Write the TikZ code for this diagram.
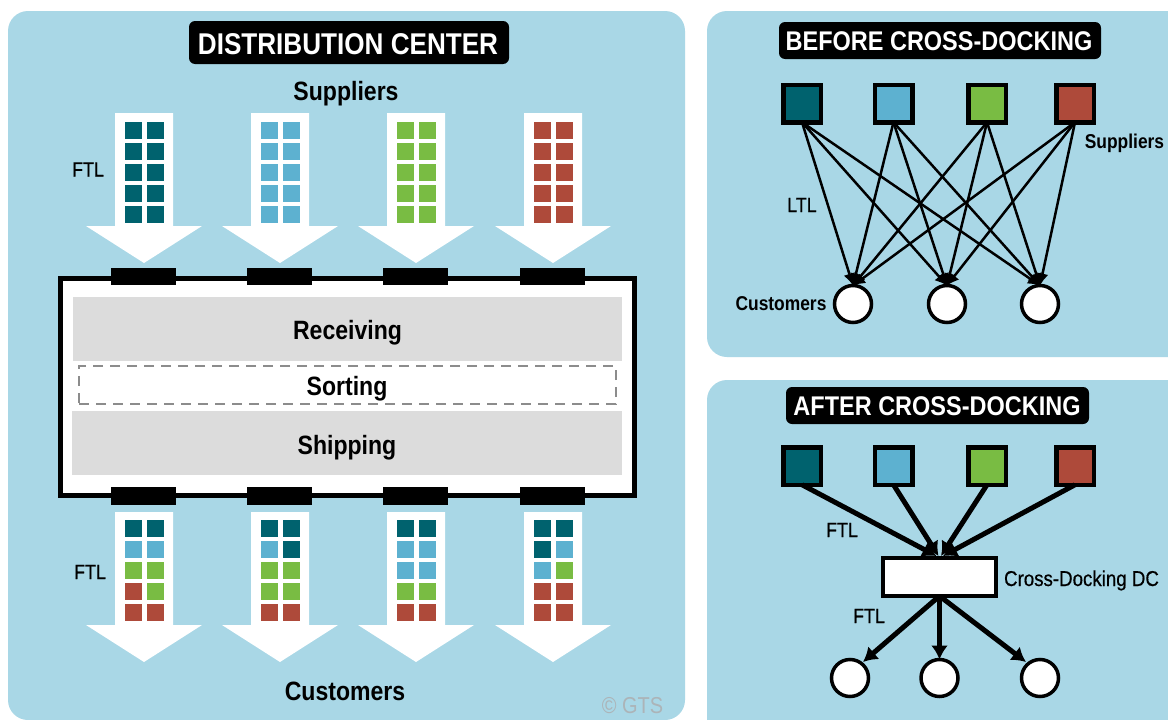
\documentclass[tikz,border=0pt]{standalone}
\usepackage{fontspec}
\setmainfont[FakeStretch=0.87,BoldFont={Liberation Sans Bold},BoldFeatures={FakeStretch=0.87}]{Liberation Sans}
\newfontfamily\medfont[FakeStretch=0.87,FakeBold=0.5]{Liberation Sans}
\usetikzlibrary{arrows.meta}
\definecolor{cBg}{HTML}{A9D7E6}
\definecolor{cT}{HTML}{00626E}
\definecolor{cB}{HTML}{5DB1D0}
\definecolor{cG}{HTML}{79BC43}
\definecolor{cR}{HTML}{AE4A3A}
\definecolor{cZone}{HTML}{DCDCDC}
\definecolor{cDash}{HTML}{8C8C8C}
\definecolor{cCopy}{HTML}{ACB4B8}
\newcommand{\fs}[1]{\fontsize{#1}{#1}\selectfont}
\tikzset{
  x=1pt,y=-1pt,
  panel/.style={fill=cBg,rounded corners=20pt},
  crate/.style={draw=white,line width=0.4pt,minimum width=18pt,minimum height=18pt,inner sep=0pt,outer sep=0pt},
  dock/.style={fill=black,minimum width=65pt,minimum height=17pt,inner sep=0pt,outer sep=0pt},
  zone/.style={fill=cZone,inner sep=0pt,outer sep=0pt},
  titlebox/.style={fill=black,rounded corners=6pt,inner sep=0pt,outer sep=0pt},
  titletext/.style={anchor=base,text=white,font=\bfseries,inner sep=0pt},
  lab/.style={anchor=base,inner sep=0pt,font=\bfseries\fs{26.5}},
  small/.style={anchor=base,inner sep=0pt,font=\medfont\fs{20.5}},
  smallb/.style={anchor=base,inner sep=0pt,font=\bfseries\fs{20}},
  site/.style={draw=black,line width=4.5pt,minimum size=37.5pt,inner sep=0pt,outer sep=0pt},
  cust/.style={circle,draw=black,fill=white,line width=3.5pt,minimum size=37pt,inner sep=0pt,outer sep=0pt},
  ltl/.style={draw=black,line width=2.5pt,-{Latex[length=12pt,width=12pt]}},
  ftl/.style={draw=black,line width=5pt,-{Latex[length=14pt,width=17pt]}},
}
\newcommand{\bigarrow}[2]{%
  \fill[white] (#1-29,#2) -- (#1+29,#2) -- (#1+29,#2+113) -- (#1+58,#2+113) -- (#1,#2+150) -- (#1-58,#2+113) -- (#1-29,#2+113) -- cycle;}
\begin{document}
\begin{tikzpicture}
\useasboundingbox (0,0) rectangle (1168,720);
\fill[white] (0,0) rectangle (1168,720);
\clip (0,0) rectangle (1168,720);
% panels
\fill[panel] (8,11) rectangle (685,720);
\fill[panel] (707,11) rectangle (1200,357);
\fill[panel] (707,380) rectangle (1200,750);
% titles
\node[titlebox,minimum width=320pt,minimum height=43pt] (t1box) at (349,42.5) {};
\node[titletext,font=\bfseries\fs{30}] (t1) at (348,54) {DISTRIBUTION CENTER};
\node[titlebox,minimum width=322pt,minimum height=37pt] (t2box) at (940,40.5) {};
\node[titletext,font=\bfseries\fs{27}] (t2) at (939,50.5) {BEFORE CROSS-DOCKING};
\node[titlebox,minimum width=303pt,minimum height=37pt] (t3box) at (937.5,405.5) {};
\node[titletext,font=\bfseries\fs{27}] (t3) at (937,415.5) {AFTER CROSS-DOCKING};
% big arrows
\foreach \cx in {144,280,416,553} {
  \bigarrow{\cx}{113}
  \bigarrow{\cx}{512}
}
% supplier crates
\foreach \cx/\k/\c in {144/1/cT,280/2/cB,416/3/cG,553/4/cR} {
  \foreach \j in {0,...,4} {
    \pgfmathsetmacro{\yy}{130.5+20.8*\j}
    \node[crate,fill=\c] (top\k-\j-l) at (\cx-11,\yy) {};
    \node[crate,fill=\c] (top\k-\j-r) at (\cx+11,\yy) {};
  }
}
% customer crates
\foreach \cx/\k/\cells in {144/1/{T/T,B/B,G/G,R/G,R/R},280/2/{T/T,B/T,G/G,G/G,R/R},416/3/{T/T,B/B,B/B,G/G,R/R},553/4/{T/T,T/B,B/G,R/R,R/R}} {
  \foreach \l/\r [count=\j from 0] in \cells {
    \pgfmathsetmacro{\yy}{528+21*\j}
    \node[crate,fill=c\l] (bot\k-\j-l) at (\cx-11,\yy) {};
    \node[crate,fill=c\r] (bot\k-\j-r) at (\cx+11,\yy) {};
  }
}
% building
\node[draw=black,fill=white,line width=5pt,minimum width=574pt,minimum height=217pt,inner sep=0pt] (dc) at (347.5,387) {};
\foreach \cx/\k in {143.5/1,279.5/2,415.5/3,552.5/4} {
  \node[dock] (dockT\k) at (\cx,276.5) {};
  \node[dock,minimum height=18pt] (dockB\k) at (\cx,496) {};
}
\node[zone,minimum width=549pt,minimum height=64pt] (recv) at (347.5,329) {};
\node[zone,minimum width=550pt,minimum height=64pt] (ship) at (347,443) {};
\node[draw=cDash,fill=white,line width=2.2pt,dash pattern=on 10pt off 7pt,minimum width=537pt,minimum height=38pt,inner sep=0pt] (sort) at (347.5,385) {};
\node[lab] (lrecv) at (347.5,339) {Receiving};
\node[lab] (lsort) at (347,395) {Sorting};
\node[lab] (lship) at (347,454) {Shipping};
\node[lab] (lsup) at (346,100) {Suppliers};
\node[lab] (lcus) at (345,700) {Customers};
\node[small] (lf1) at (88,176.5) {FTL};
\node[small] (lf2) at (90,579) {FTL};
\node[anchor=base,inner sep=0pt,text=cCopy,font=\fs{23}] (copy) at (632.5,713) {© GTS};
% before
\foreach \cx/\k/\c in {802/1/cT,893.5/2/cB,987/3/cG,1075/4/cR} {
  \node[site,fill=\c] (bs\k) at (\cx,103.5) {};
  \node[site,fill=\c] (as\k) at (\cx,466) {};
}
\node[cust] (bc1) at (853,304) {};
\node[cust] (bc2) at (947,304) {};
\node[cust] (bc3) at (1040,304) {};
\foreach \s in {1,2,3,4} \foreach \c in {1,2,3} \draw[ltl] (bs\s.south) -- (bc\c.north);
\node[small] (lltl) at (802,212) {LTL};
\node[smallb] (lbs) at (1124.5,148) {Suppliers};
\node[smallb] (lbc) at (781,310) {Customers};
% after
\node[draw=black,fill=white,line width=4.5pt,minimum width=113pt,minimum height=38pt,inner sep=0pt,outer sep=0pt] (xd) at (939.5,577) {};
\node[cust] (ac1) at (850,678) {};
\node[cust] (ac2) at (939.5,678) {};
\node[cust] (ac3) at (1040,678) {};
\coordinate (in1) at (936.5,556);
\coordinate (in2) at (938.5,556);
\coordinate (in3) at (941,556);
\coordinate (in4) at (943,556);
\coordinate (o1) at (863,662);
\coordinate (o3) at (1026,662);
\foreach \s in {1,2,3,4} \draw[ftl] (as\s.south) -- (in\s);
\draw[ftl] (xd.south) -- (o1);
\draw[ftl] (xd.south) -- (ac2.north);
\draw[ftl] (xd.south) -- (o3);
\node[small] (laf1) at (842,537) {FTL};
\node[small] (laf2) at (869,623) {FTL};
\node[small,font=\medfont\fs{21.5}] (lxd) at (1081.5,586) {Cross-Docking DC};
\end{tikzpicture}
\end{document}
